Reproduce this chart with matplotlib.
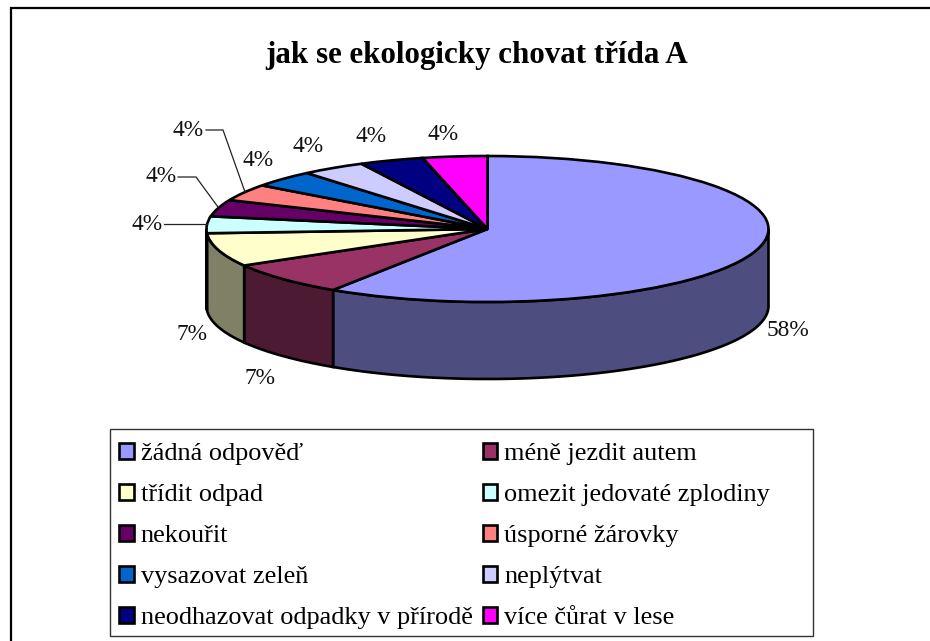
import numpy as np
import matplotlib
matplotlib.use("Agg")
import matplotlib.pyplot as plt
from matplotlib.patches import Rectangle

plt.rcParams['font.family'] = ['Liberation Serif', 'DejaVu Serif']

#---------------------- data ----------------------
title = "jak se ekologicky chovat třída A"
categories = ["žádná odpověď", "méně jezdit autem", "třídit odpad", "omezit jedovaté zplodiny",
              "nekouřit", "úsporné žárovky", "vysazovat zeleň", "neplýtvat",
              "neodhazovat odpadky v přírodě", "více čůrat v lese"]
values = [59.2, 7.4, 7.4, 3.7, 3.7, 3.7, 3.7, 3.7, 3.7, 3.7]   # slice sizes
pct_labels = ["58%", "7%", "7%", "4%", "4%", "4%", "4%", "4%", "4%", "4%"]
colors = ["#9999FF", "#993366", "#FFFFCC", "#CCFFFF", "#660066",
          "#FF8080", "#0066CC", "#CCCCFF", "#000080", "#FF00FF"]
side_colors = ["#4D4D80", "#4D1A33", "#808066", "#668080", "#330033",
               "#804040", "#003366", "#666680", "#000040", "#800080"]

#---------------------- layout (pixels) ----------------------
W, H = 930, 641
cx, cy, rx, ry, depth = 487.5, 229, 281, 73, 77
label_pos = [(788, 331), (260, 378), (192, 334), (147, 224), (161, 177),
             (188, 131), (258, 160), (308, 147), (371, 136), (443, 134)]
leaders = [[(164, 224), (207, 224)],
           [(178, 177), (196, 177), (218, 207)],
           [(206, 130), (223, 130), (245, 192)]]

fig = plt.figure(figsize=(W / 100, H / 100), dpi=100, facecolor='white')

# pie axes: one data unit = rx pixels across and ry pixels down, which gives the tilted ellipse
ax = fig.add_axes([0, 0, 1, 1])
wedges, _ = ax.pie(values, colors=colors, startangle=90, counterclock=False, radius=1,
                   wedgeprops=dict(edgecolor='black', linewidth=1.9, zorder=3))
ax.set_aspect('auto')
ax.set_xlim(-cx / rx, (W - cx) / rx)
ax.set_ylim(-(H - cy) / ry, cy / ry)
ax.axis('off')

# side wall: only the part of each slice on the front half of the ellipse
d = depth / ry
ang = 90 - np.cumsum([0] + values) * 360 / sum(values)
for i in range(len(values)):
    a1, a2 = ang[i] % 360, ang[i + 1] % 360
    if a1 == 0:
        a1 = 360
    if a2 > a1:       # slice runs over 0 degrees, its front part ends at 360
        a2, a1 = a2, 360
    lo, hi = max(a2, 180), min(a1, 360)
    if hi <= lo:
        continue
    t = np.radians(np.linspace(lo, hi, 120))
    xs = np.concatenate([np.cos(t), np.cos(t[::-1])])
    ys = np.concatenate([np.sin(t), np.sin(t[::-1]) - d])
    ax.fill(xs, ys, facecolor=side_colors[i], edgecolor='black', linewidth=1.9, zorder=2)

# pixel axes for title, percent labels, leader lines and borders
px = fig.add_axes([0, 0, 1, 1], facecolor='none')
px.set_xlim(0, W)
px.set_ylim(H, 0)
px.axis('off')

px.text(477, 56, title, ha='center', va='center', fontsize=22.3, fontweight='bold')
for lab, (x, y) in zip(pct_labels, label_pos):
    px.text(x, y, lab, ha='center', va='center', fontsize=16.8, color='#111111')
for line in leaders:
    px.plot([p[0] for p in line], [p[1] for p in line], color='#222222', lw=0.9)

px.plot([11, 11, W], [H, 8, 8], color='black', lw=1.6, solid_joinstyle='miter')
px.add_patch(Rectangle((110, 428.5), 703, 207, facecolor='white', edgecolor='#333333', lw=1.0, zorder=1))

# legend is filled by column, so hand it the two columns one after the other
order = list(range(0, 10, 2)) + list(range(1, 10, 2))
leg = px.legend([wedges[i] for i in order], [categories[i] for i in order], ncol=2,
                loc='upper left', bbox_to_anchor=(119 / W, 1 - 443 / H), bbox_transform=fig.transFigure,
                frameon=False, fontsize=18.9, borderpad=0, borderaxespad=0,
                handlelength=0.56, handleheight=0.56, handletextpad=0.27,
                labelspacing=0.71, columnspacing=0.38)
leg.set_zorder(5)

fig.savefig("out.png", dpi=100)
